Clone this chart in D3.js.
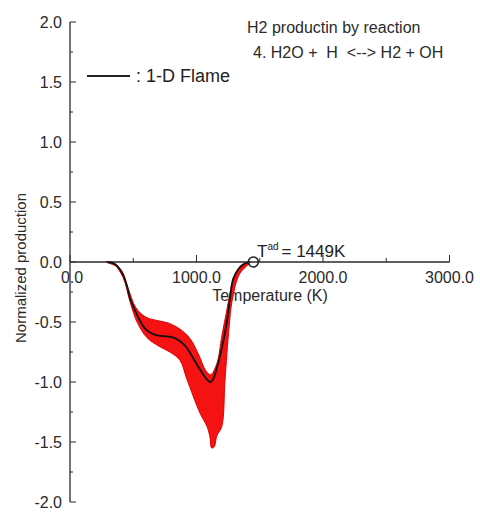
<!DOCTYPE html>
<html><head><meta charset="utf-8">
<script src="https://cdn.jsdelivr.net/npm/d3@7"></script>
<style>body{margin:0;background:#fff}svg{display:block}</style>
</head><body>
<svg id="c" width="480" height="512"></svg>
<script>
// ---- data ----
const xTicks = [0, 1000, 2000, 3000];
const xTickLabels = ["0.0", "1000.0", "2000.0", "3000.0"];
const yTicks = [2.0, 1.5, 1.0, 0.5, 0.0, -0.5, -1.0, -1.5, -2.0];
const yTickLabels = ["2.0", "1.5", "1.0", "0.5", "0.0", "-0.5", "-1.0", "-1.5", "-2.0"];
// 1-D flame (black line)
const flameT = [290, 340, 380, 420, 450, 474, 500, 530, 570, 608, 680, 766, 820, 870, 920, 973, 1030, 1083, 1110, 1130, 1162, 1200, 1240, 1265, 1290, 1330, 1370, 1420];
const flameV = [0, -0.01, -0.04, -0.11, -0.2, -0.3, -0.37, -0.44, -0.52, -0.57, -0.61, -0.62, -0.63, -0.66, -0.71, -0.8, -0.9, -0.98, -1.0, -0.98, -0.88, -0.72, -0.5, -0.3, -0.14, -0.06, -0.02, 0];
// scatter envelope (red points) outline
const bandT = [290, 400, 460, 520, 600, 700, 780, 870, 950, 1020, 1070, 1110, 1160, 1200, 1240, 1290, 1350, 1410,
               1425, 1340, 1282, 1257, 1225, 1200, 1160, 1140, 1120, 1105, 1083, 1028, 925, 870, 790, 700, 608, 530, 474, 420, 340];
const bandV = [0, -0.06, -0.22, -0.38, -0.46, -0.49, -0.51, -0.56, -0.64, -0.78, -0.9, -0.94, -0.85, -0.62, -0.4, -0.15, -0.03, 0,
               0, -0.1, -0.32, -0.55, -0.99, -1.37, -1.45, -1.54, -1.55, -1.45, -1.37, -1.26, -0.98, -0.82, -0.75, -0.70, -0.63, -0.5, -0.33, -0.13, -0.01];
const tAd = 1449;

// ---- chart ----
const svg = d3.select("#c");
const font = "'Liberation Sans', Arial, Helvetica, sans-serif";
const x = d3.scaleLinear().domain([0, 3000]).range([70, 449.5]);
const y = d3.scaleLinear().domain([-2, 2]).range([502, 22]);
const ink = "#2a2a2a";

// y axis
const yAxis = svg.append("g");
yAxis.append("line").attr("x1", x(0)).attr("x2", x(0)).attr("y1", y(2)).attr("y2", y(-2))
  .attr("stroke", ink).attr("stroke-width", 1.3);
d3.range(-2, 2.01, 0.25).forEach(v => {
  const major = Math.abs(v * 2 - Math.round(v * 2)) < 1e-6;
  yAxis.append("line").attr("x1", x(0)).attr("x2", x(0) + (major ? 6 : 3))
    .attr("y1", y(v)).attr("y2", y(v)).attr("stroke", ink).attr("stroke-width", 1);
});
yTicks.forEach((v, i) => {
  yAxis.append("text").attr("x", 62).attr("y", y(v) + 5.5).attr("text-anchor", "end")
    .attr("font-family", font).attr("font-size", 16).attr("fill", ink).text(yTickLabels[i]);
});

// x axis
const xAxis = svg.append("g");
xAxis.append("line").attr("x1", x(0)).attr("x2", x(3000)).attr("y1", y(0)).attr("y2", y(0))
  .attr("stroke", ink).attr("stroke-width", 1.3);
d3.range(0, 3001, 500).forEach(t => {
  const major = t % 1000 === 0;
  xAxis.append("line").attr("x1", x(t)).attr("x2", x(t)).attr("y1", y(0)).attr("y2", y(0) - (major ? 7 : 4))
    .attr("stroke", ink).attr("stroke-width", 1);
});
xTicks.forEach((t, i) => {
  xAxis.append("text").attr("x", x(t) + (t === 0 ? 2 : 0)).attr("y", 283).attr("text-anchor", "middle")
    .attr("font-family", font).attr("font-size", 16).attr("fill", ink).text(xTickLabels[i]);
});
svg.append("text").attr("x", 270).attr("y", 301).attr("text-anchor", "middle")
  .attr("font-family", font).attr("font-size", 16).attr("fill", ink).text("Temperature (K)");
svg.append("text").attr("transform", "translate(26,268) rotate(-90)").attr("text-anchor", "middle")
  .attr("font-family", font).attr("font-size", 15).attr("fill", ink).text("Normalized production");

// titles
svg.append("text").attr("x", 247).attr("y", 33).attr("font-family", font).attr("font-size", 16)
  .attr("fill", ink).text("H2 productin by reaction");
svg.append("text").attr("x", 253).attr("y", 58).attr("font-family", font).attr("font-size", 16)
  .attr("fill", ink).attr("xml:space", "preserve").style("white-space", "pre").text("4. H2O +  H  <--> H2 + OH");

// legend
svg.append("line").attr("x1", 87).attr("x2", 130).attr("y1", 76).attr("y2", 76)
  .attr("stroke", "#222").attr("stroke-width", 2.2);
svg.append("text").attr("x", 136).attr("y", 82).attr("font-family", font).attr("font-size", 18)
  .attr("fill", "#222").text(": 1-D Flame");

// red scatter envelope
const bandPts = bandT.map((t, i) => [x(t), y(bandV[i])]);
svg.append("path").attr("d", d3.line().curve(d3.curveCatmullRomClosed.alpha(0.5))(bandPts))
  .attr("fill", "#f41212").attr("stroke", "#e00000").attr("stroke-width", 1);

// black flame line
const flamePts = flameT.map((t, i) => [x(t), y(flameV[i])]);
svg.append("path").attr("d", d3.line().curve(d3.curveCatmullRom.alpha(0.5))(flamePts))
  .attr("fill", "none").attr("stroke", "#111").attr("stroke-width", 1.8);

// adiabatic temperature marker
svg.append("circle").attr("cx", x(tAd)).attr("cy", y(0)).attr("r", 5)
  .attr("fill", "none").attr("stroke", "#222").attr("stroke-width", 1.6);
const lab = svg.append("text").attr("x", 257).attr("y", 257).attr("font-family", font)
  .attr("font-size", 17).attr("fill", "#222");
lab.append("tspan").text("T");
lab.append("tspan").attr("font-size", 10).attr("dy", -7).text("ad");
lab.append("tspan").attr("dy", 7).attr("dx", 3).text("= " + tAd + "K");
</script>
</body></html>
